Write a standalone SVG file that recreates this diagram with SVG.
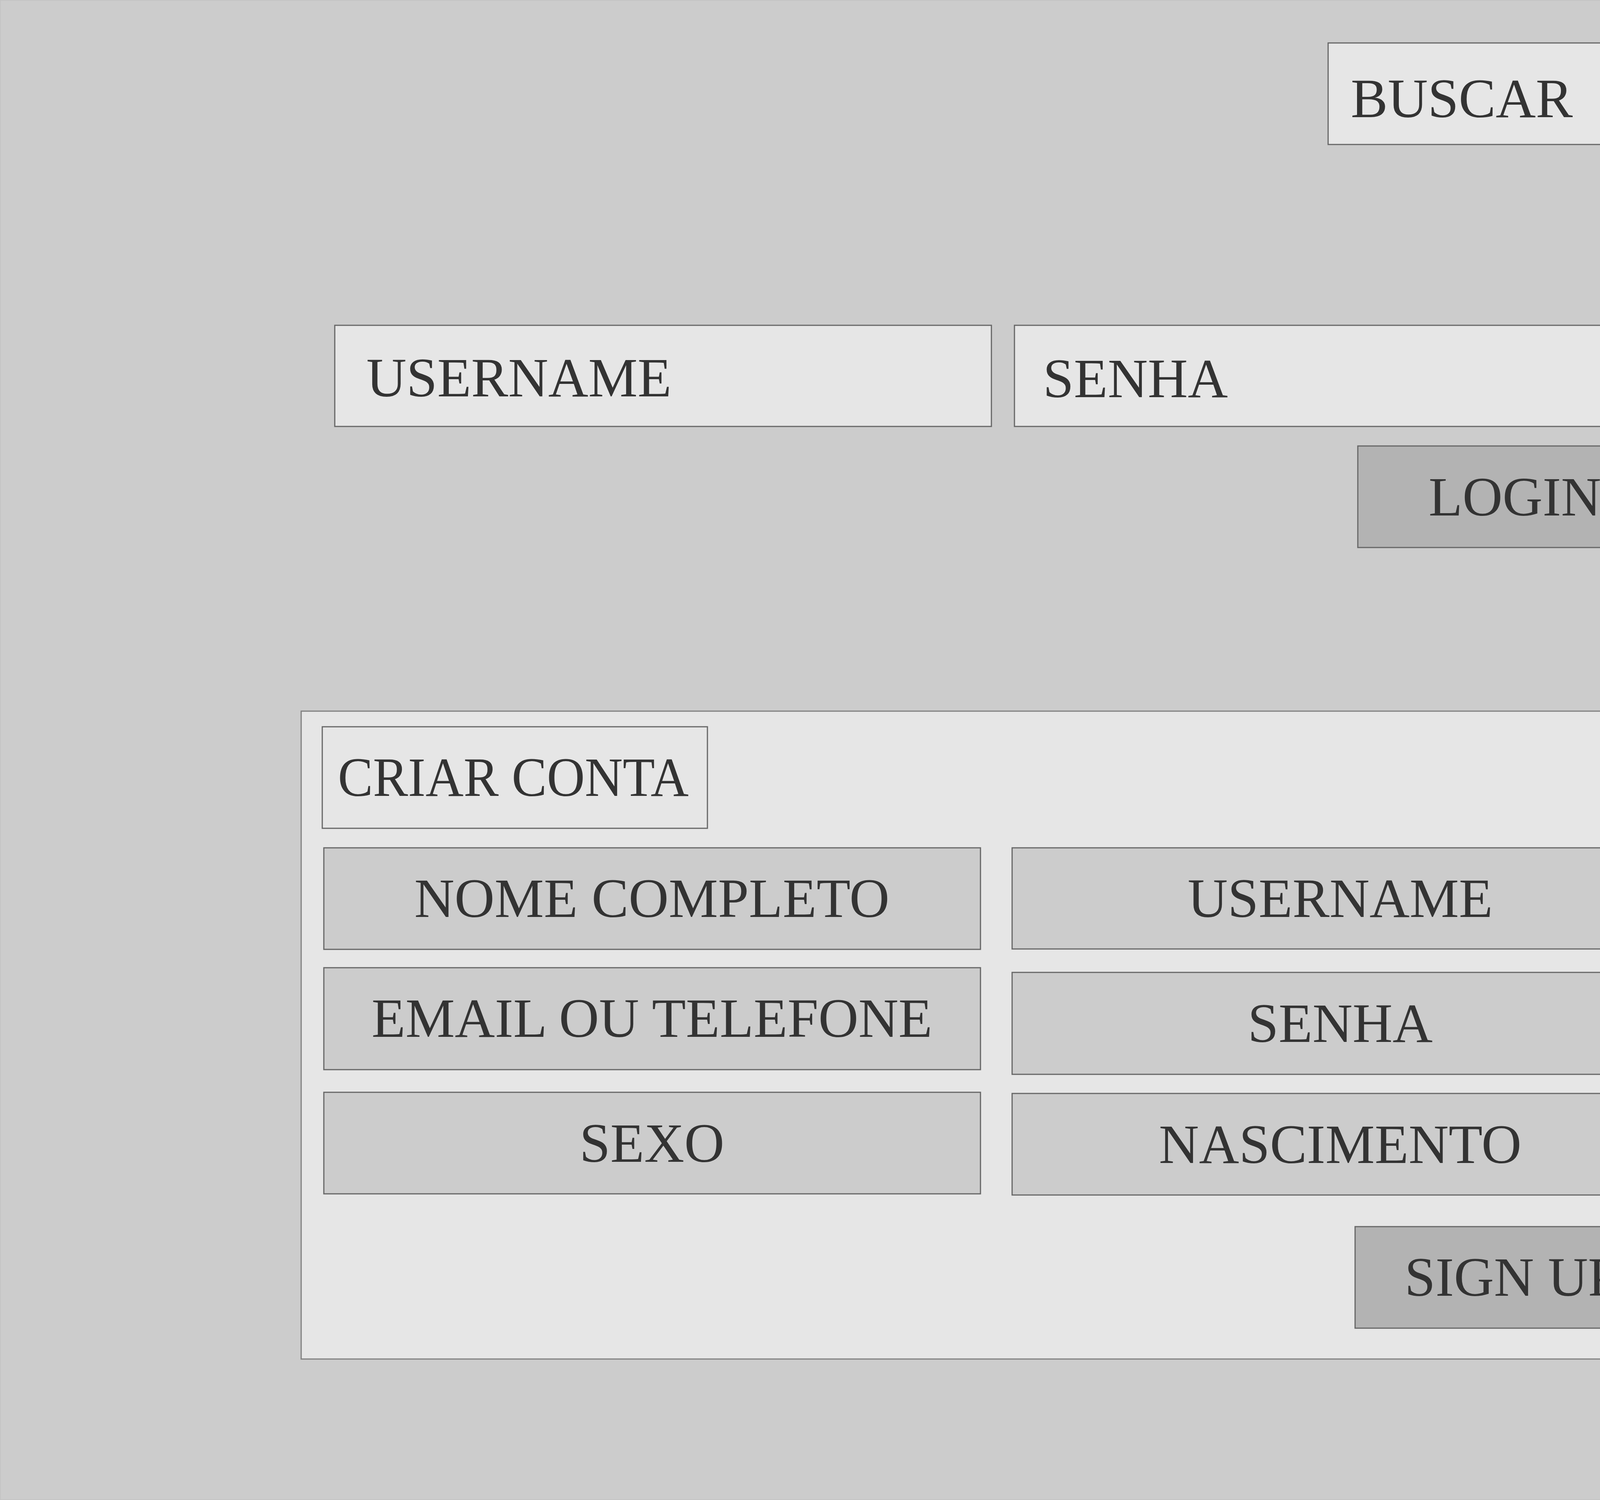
<svg xmlns="http://www.w3.org/2000/svg" width="5171" height="3841" viewBox="0 0 5171 3841">
<style>
.bg{fill:#cccccc;stroke:#c4c4c4;stroke-width:2}
.field{fill:#e6e6e6;stroke:#666666;stroke-width:3}
.inner{fill:#cccccc;stroke:#666666;stroke-width:3}
.btn{fill:#b3b3b3;stroke:#666666;stroke-width:3}
.panel{fill:#e6e6e6;stroke:#808080;stroke-width:3}
text{font-family:"Liberation Serif","Times New Roman",serif;font-size:142px;fill:#333333}
.c{text-anchor:middle}
</style>
<rect class="bg" x="1" y="1" width="5169" height="3839"/>
<g id="buscar">
<rect class="field" x="3400" y="110" width="1680" height="260"/>
<text x="3458" y="300">BUSCAR</text>
</g>
<g id="login-username">
<rect class="field" x="857" y="833" width="1681" height="259"/>
<text x="938" y="1015">USERNAME</text>
</g>
<g id="login-senha">
<rect class="field" x="2597" y="833" width="1681" height="259"/>
<text x="2670" y="1017">SENHA</text>
</g>
<g id="login-button">
<rect class="btn" x="3476" y="1142" width="804" height="260"/>
<text class="c" x="3878" y="1320">LOGIN</text>
</g>
<g id="criar-conta-panel">
<rect class="panel" x="771" y="1821" width="3599" height="1659"/>
</g>
<g id="criar-conta-title">
<rect class="field" x="825" y="1861" width="986" height="260"/>
<text x="865" y="2038" textLength="898" lengthAdjust="spacingAndGlyphs">CRIAR CONTA</text>
</g>
<g id="nome-completo">
<rect class="inner" x="829" y="2171" width="1681" height="260"/>
<text class="c" x="1669" y="2348">NOME COMPLETO</text>
</g>
<g id="signup-username">
<rect class="inner" x="2591" y="2171" width="1680" height="259"/>
<text class="c" x="3431" y="2348">USERNAME</text>
</g>
<g id="email-telefone">
<rect class="inner" x="829" y="2478" width="1681" height="261"/>
<text class="c" x="1669" y="2655">EMAIL OU TELEFONE</text>
</g>
<g id="signup-senha">
<rect class="inner" x="2591" y="2490" width="1680" height="261"/>
<text class="c" x="3431" y="2668">SENHA</text>
</g>
<g id="sexo">
<rect class="inner" x="829" y="2797" width="1681" height="260"/>
<text class="c" x="1669" y="2975">SEXO</text>
</g>
<g id="nascimento">
<rect class="inner" x="2591" y="2800" width="1680" height="260"/>
<text class="c" x="3431" y="2978">NASCIMENTO</text>
</g>
<g id="signup-button">
<rect class="btn" x="3469" y="3141" width="803" height="260"/>
<text class="c" x="3870" y="3318">SIGN UP</text>
</g>
<g id="connectors"></g>
</svg>
